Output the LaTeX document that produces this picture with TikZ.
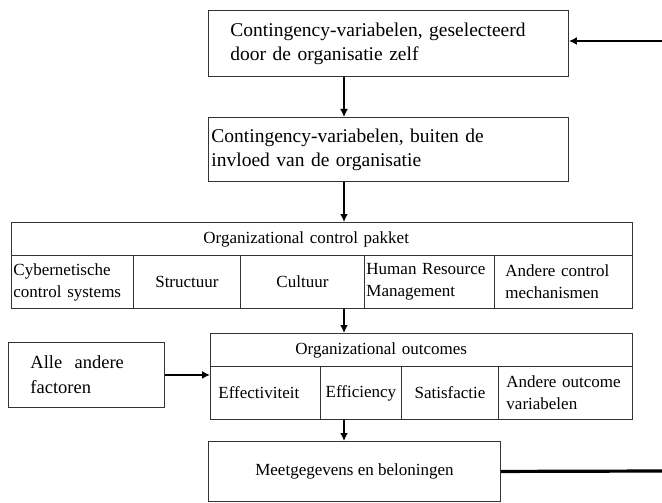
\documentclass[tikz,border=0pt]{standalone}
\usepackage{fontspec}
\setmainfont{Liberation Serif}
\usetikzlibrary{arrows.meta}

\begin{document}
\begin{tikzpicture}
  [x=1pt,y=-1pt,
   box/.style={draw=black!80,line width=.9pt,rectangle,anchor=north west,
     inner ysep=0pt,font=\fontsize{19.5}{24}\selectfont},
   cell/.style={box,minimum height=53pt,inner xsep=2pt,
     font=\fontsize{17}{22}\selectfont},
   head/.style={box,minimum height=33pt,align=left,
     font=\fontsize{17}{22}\selectfont},
   flow/.style={line width=2pt,-{Latex[length=8pt,width=8pt]}}]
  \useasboundingbox (0,0) rectangle (662,503);

  % contingency boxes
  \node[box,minimum height=66pt,inner xsep=22pt,text width=316pt,align=left]
    (zelf) at (208,10) {Contingency-variabelen, geselecteerd\\door de organisatie zelf};
  \node[box,minimum height=64pt,inner xsep=3pt,text width=354pt,align=left]
    (buiten) at (208,117) {Contingency-variabelen, buiten de\\invloed van de organisatie};

  % organizational control pakket
  \node[head,inner xsep=192pt,text width=237pt] (ocphead) at (11,222)
    {Organizational control pakket};
  \node[cell,text width=118pt,align=left] (cyb) at (11,255)
    {Cybernetische\\control systems};
  \node[cell,text width=103pt,align=center] (struc) at (133,255) {Structuur};
  \node[cell,text width=120pt,align=center] (cult) at (240,255) {Cultuur};
  \node[cell,text width=126pt,align=left] (hrm) at (364,255)
    {Human Resource\\Management};
  \node[cell,inner xsep=11pt,text width=116pt,align=left] (mech) at (494,255)
    {Andere control\\mechanismen};

  % organizational outcomes
  \node[box,minimum height=65pt,inner xsep=22pt,text width=112pt,align=left,
    font=\fontsize{18.5}{25}\selectfont] (alle) at (8,342) {Alle~ andere\\factoren};
  \node[head,inner xsep=85pt,text width=252pt] (outhead) at (210,333)
    {Organizational outcomes};
  \node[cell,inner xsep=8pt,text width=94pt,align=left] (eff) at (210,366)
    {Effectiviteit};
  \node[cell,text width=77pt,align=center] (effic) at (320,366) {Efficiency};
  \node[cell,text width=93pt,align=center] (sat) at (401,366) {Satisfactie};
  \node[cell,inner xsep=8pt,text width=118pt,align=left] (var) at (498,366)
    {Andere outcome\\variabelen};

  \node[box,minimum width=292pt,minimum height=60pt,
    font=\fontsize{17}{22}\selectfont] (meet) at (208,441)
    {Meetgegevens en beloningen};

  % connectors
  \coordinate (spine) at (344,0);
  \coordinate (inR) at (662,41);
  \coordinate (outR) at (662,471);
  \foreach \from/\to in {zelf/buiten,buiten/ocphead,cult/outhead,effic/meet}
    \draw[flow] (\from.south -| spine) -- (\to.north -| spine);
  \draw[flow] (inR) -- (zelf.east |- inR);
  \draw[flow] (alle.east) -- (alle.east -| outhead.west);
  \draw[line width=3.2pt] (meet.east) -- (outR);
\end{tikzpicture}
\end{document}
